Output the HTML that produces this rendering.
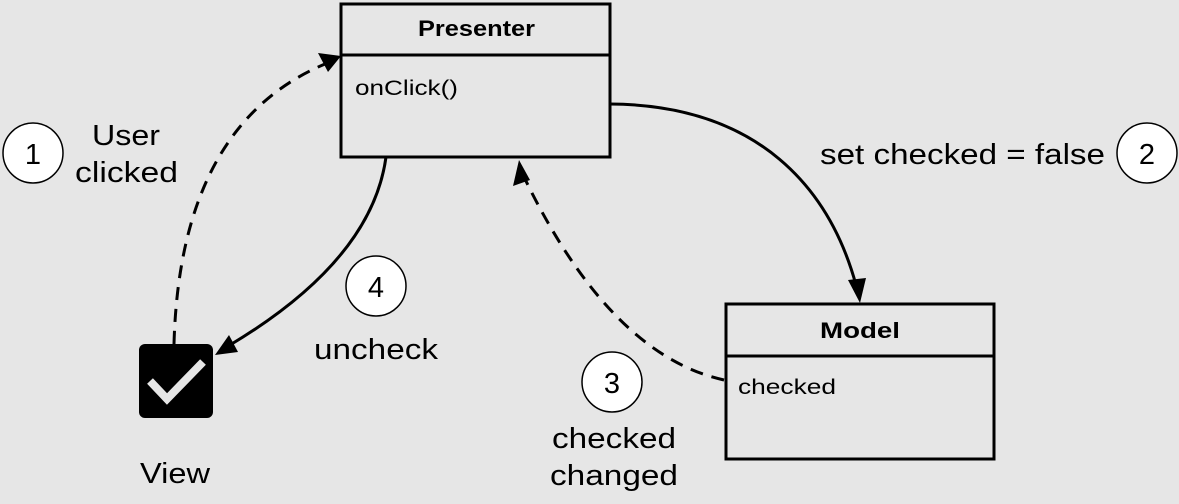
<!DOCTYPE html>
<html><head><meta charset="utf-8"><style>
html,body{margin:0;padding:0;background:#e6e6e6;}
svg{display:block;}
text{font-family:"Liberation Sans",sans-serif;fill:#000;}
</style></head><body>
<svg width="1179" height="504" viewBox="0 0 1179 504" xmlns="http://www.w3.org/2000/svg">
<rect width="1179" height="504" fill="#e6e6e6"/>
<!-- Presenter -->
<rect x="341" y="4" width="269" height="153" fill="#e6e6e6" stroke="#000" stroke-width="3"/>
<line x1="341" y1="55" x2="610" y2="55" stroke="#000" stroke-width="3"/>
<text x="418" y="36" font-size="22" font-weight="bold" textLength="117" lengthAdjust="spacingAndGlyphs">Presenter</text>
<text x="355" y="95" font-size="21" textLength="103" lengthAdjust="spacingAndGlyphs">onClick()</text>
<!-- Model -->
<rect x="726" y="304" width="268" height="155" fill="#e6e6e6" stroke="#000" stroke-width="3"/>
<line x1="726" y1="356" x2="994" y2="356" stroke="#000" stroke-width="3"/>
<text x="820" y="338" font-size="22" font-weight="bold" textLength="80" lengthAdjust="spacingAndGlyphs">Model</text>
<text x="738" y="394" font-size="21" textLength="98" lengthAdjust="spacingAndGlyphs">checked</text>
<!-- checkbox -->
<rect x="139" y="344" width="74" height="74" rx="6" fill="#000"/>
<polyline points="150,381 167,399 203,362" fill="none" stroke="#e6e6e6" stroke-width="8"/>
<!-- connectors -->
<path d="M174,344 Q180,125 325,64" fill="none" stroke="#000" stroke-width="3" stroke-dasharray="13,9"/>
<polygon points="341,56 318,53 328,72" fill="#000"/>
<path d="M386,157 Q372,260 230,345" fill="none" stroke="#000" stroke-width="3"/>
<polygon points="215,355 229,335 238,352" fill="#000"/>
<path d="M610,104 C760,105 830,190 856,285" fill="none" stroke="#000" stroke-width="3"/>
<polygon points="860,303 848,280 866,278" fill="#000"/>
<path d="M724,380 Q610,355 524,177" fill="none" stroke="#000" stroke-width="3" stroke-dasharray="13,9"/>
<polygon points="519,160 513,186 530,180" fill="#000"/>
<!-- circles -->
<g fill="#fff" stroke="#000" stroke-width="1.5">
<circle cx="33" cy="153" r="30"/>
<circle cx="1147" cy="153" r="30"/>
<circle cx="612" cy="382" r="30"/>
<circle cx="376" cy="286" r="30"/>
</g>
<g font-size="29" text-anchor="middle">
<text x="33" y="164">1</text>
<text x="1147" y="164">2</text>
<text x="612" y="393">3</text>
<text x="376" y="297">4</text>
</g>
<g font-size="29">
<text x="92" y="145" textLength="68" lengthAdjust="spacingAndGlyphs">User</text>
<text x="75" y="182" textLength="103" lengthAdjust="spacingAndGlyphs">clicked</text>
<text x="820" y="164" textLength="285" lengthAdjust="spacingAndGlyphs">set checked = false</text>
<text x="314" y="359" textLength="124" lengthAdjust="spacingAndGlyphs">uncheck</text>
<text x="552" y="448" textLength="124" lengthAdjust="spacingAndGlyphs">checked</text>
<text x="550" y="485" textLength="128" lengthAdjust="spacingAndGlyphs">changed</text>
<text x="140" y="483" textLength="70" lengthAdjust="spacingAndGlyphs">View</text>
</g>
</svg>
</body></html>
